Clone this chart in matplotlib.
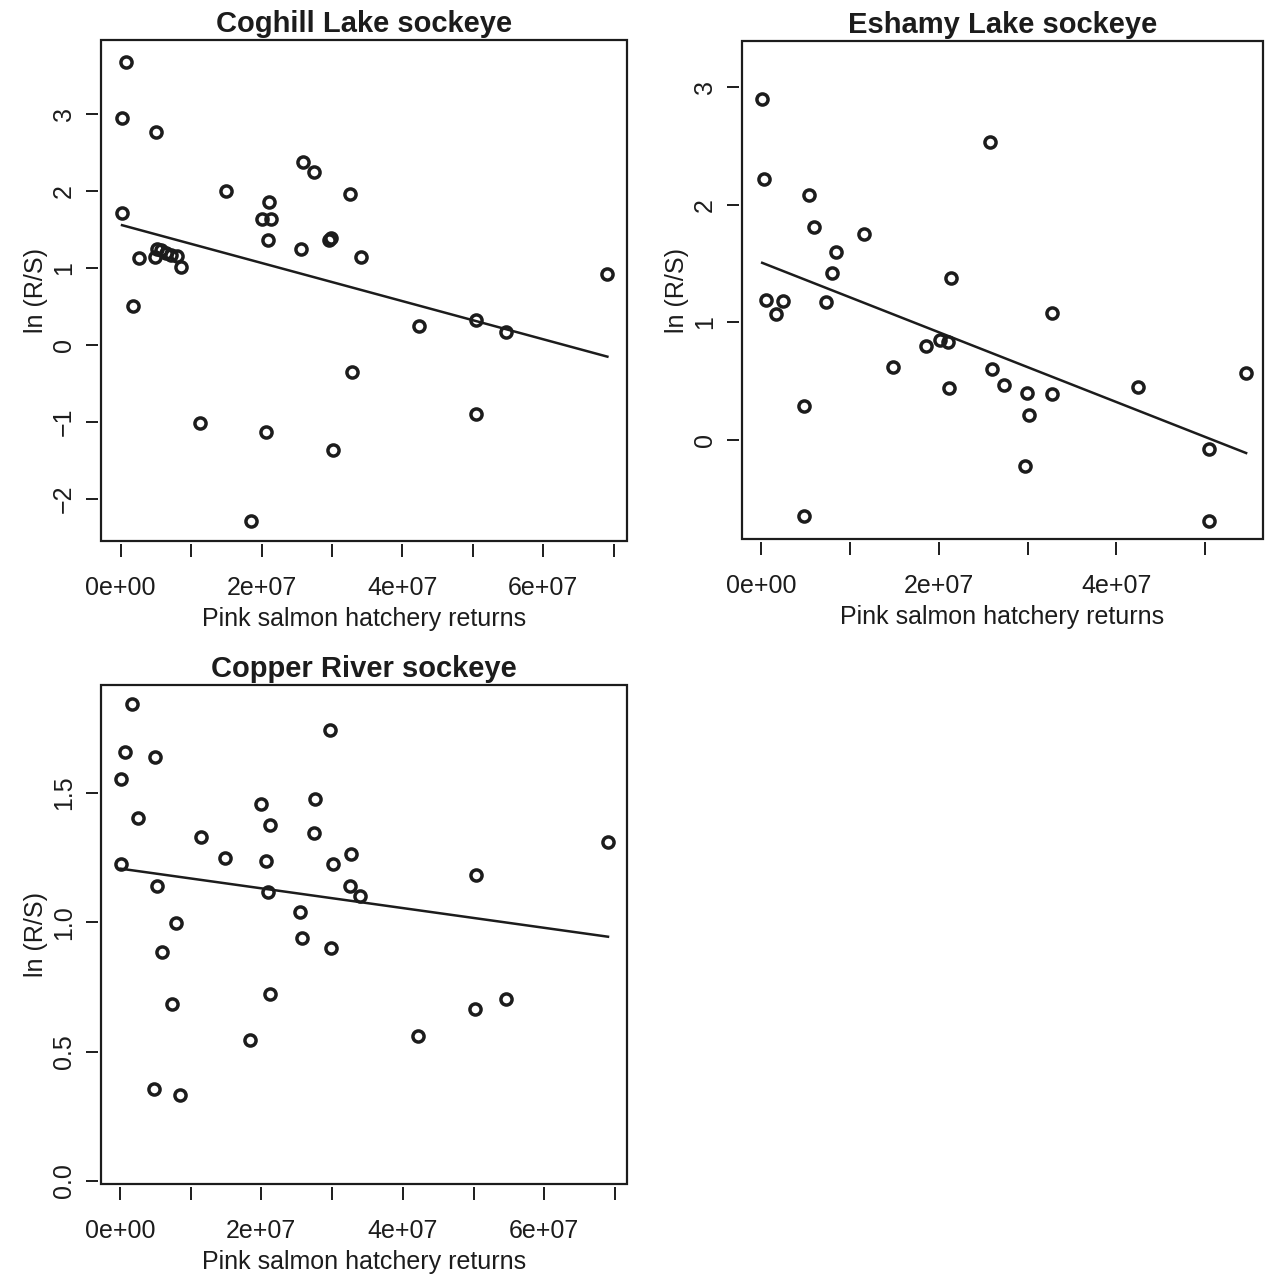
import numpy as np
import matplotlib.pyplot as plt
from matplotlib.patches import Rectangle

plt.rcParams['font.family'] = ['Liberation Sans', 'DejaVu Sans']

# pink salmon hatchery returns (units of 1e7) and ln(R/S)
coghill_x = [0.08, 0.02, 0.02, 0.50, 0.26, 0.17, 0.49, 0.52, 0.58, 0.64, 0.72, 0.80,
             0.86, 1.49, 1.13, 1.85, 2.00, 2.11, 2.14, 2.09, 2.07, 2.59, 2.74, 2.56,
             2.96, 2.99, 3.02, 3.26, 3.28, 3.41, 4.23, 5.04, 5.05, 5.47, 6.91]
coghill_y = [3.68, 2.95, 1.71, 2.77, 1.13, 0.51, 1.14, 1.24, 1.23, 1.19, 1.17, 1.16,
             1.01, 2.00, -1.01, -2.29, 1.63, 1.86, 1.63, 1.36, -1.13, 2.37, 2.24, 1.24,
             1.36, 1.39, -1.37, 1.96, -0.35, 1.14, 0.25, 0.32, -0.90, 0.17, 0.92]

eshamy_x = [0.014, 0.03, 0.06, 0.17, 0.25, 0.54, 0.60, 0.48, 0.48, 0.73, 0.80, 0.85,
            1.16, 1.49, 1.86, 2.02, 2.11, 2.14, 2.12, 2.58, 2.60, 2.74, 2.99, 3.02,
            2.97, 3.27, 3.28, 4.24, 5.04, 5.04, 5.46]
eshamy_y = [2.90, 2.22, 1.19, 1.07, 1.18, 2.08, 1.81, 0.29, -0.65, 1.17, 1.42, 1.60,
            1.75, 0.62, 0.80, 0.85, 0.83, 1.38, 0.44, 2.53, 0.60, 0.47, 0.40, 0.21,
            -0.22, 0.39, 1.08, 0.45, -0.08, -0.69, 0.57]

copper_x = [0.17, 0.07, 0.02, 0.49, 0.25, 0.01, 0.53, 0.80, 0.60, 0.73, 0.48, 0.85,
            1.14, 1.48, 1.84, 1.99, 2.12, 2.07, 2.09, 2.12, 2.55, 2.58, 2.76, 2.74,
            2.97, 3.01, 2.98, 3.27, 3.25, 3.40, 4.22, 5.04, 5.02, 5.46, 6.90]
copper_y = [1.844, 1.659, 1.553, 1.640, 1.402, 1.227, 1.141, 0.999, 0.886, 0.684, 0.357, 0.332,
            1.330, 1.248, 0.544, 1.457, 1.375, 1.237, 1.116, 0.724, 1.039, 0.939, 1.476, 1.347,
            1.742, 1.227, 0.900, 1.265, 1.139, 1.100, 0.559, 1.185, 0.666, 0.705, 1.309]

# fitted lines: intercept, slope per 1e7
coghill_fit = [1.56, -0.248]
eshamy_fit = [1.51, -0.297]
copper_fit = [1.208, -0.0382]

panels = [
    dict(title="Coghill Lake sockeye", x=coghill_x, y=coghill_y, fit=coghill_fit,
         pos=[0.0795, 0.5763, 0.4139, 0.3923], xlim=(-0.278, 7.19), ylim=(-2.55, 3.96),
         xt=range(0, 8), xl=[0, 2, 4, 6], yt=[-2, -1, 0, 1, 2, 3],
         ytl=['\u22122', '\u22121', '0', '1', '2', '3']),
    dict(title="Eshamy Lake sockeye", x=eshamy_x, y=eshamy_y, fit=eshamy_fit,
         pos=[0.5838, 0.5777, 0.4099, 0.3900], xlim=(-0.213, 5.65), ylim=(-0.845, 3.39),
         xt=range(0, 6), xl=[0, 2, 4], yt=[0, 1, 2, 3], ytl=['0', '1', '2', '3']),
    dict(title="Copper River sockeye", x=copper_x, y=copper_y, fit=copper_fit,
         pos=[0.0795, 0.0726, 0.4139, 0.3908], xlim=(-0.266, 7.17), ylim=(-0.013, 1.917),
         xt=range(0, 8), xl=[0, 2, 4, 6], yt=[0.0, 0.5, 1.0, 1.5],
         ytl=['0.0', '0.5', '1.0', '1.5']),
]

ink = '#1c1c1c'
fig = plt.figure(figsize=(12.71, 12.77), dpi=100)

for p in panels:
    ax = fig.add_axes(p['pos'])
    x = np.array(p['x']) * 1e7
    y = np.array(p['y'])
    ax.plot(x, y, linestyle='none', marker='o', markersize=8, markerfacecolor='none',
            markeredgecolor=ink, markeredgewidth=2.5)
    b0, b1 = p['fit']
    xs = np.array([x.min(), x.max()])
    ax.plot(xs, b0 + b1 * xs / 1e7, color=ink, lw=1.8)

    ax.set_xlim(p['xlim'][0] * 1e7, p['xlim'][1] * 1e7)
    ax.set_ylim(*p['ylim'])
    ax.set_xticks([t * 1e7 for t in p['xt']])
    ax.set_xticklabels(['0e+00' if t == 0 else f'{t}e+07' if t in p['xl'] else ''
                        for t in p['xt']])
    ax.set_yticks(p['yt'])
    ax.set_yticklabels(p['ytl'])

    # R-like box with ticks hanging a little away from it
    for s in ax.spines.values():
        s.set_color('none')
    ax.spines['bottom'].set_position(('outward', 2))
    ax.spines['left'].set_position(('outward', 2))
    ax.add_patch(Rectangle((0, 0), 1, 1, transform=ax.transAxes, fill=False,
                           lw=1.6, edgecolor=ink, clip_on=False))
    ax.tick_params(direction='out', length=9, width=1.4, color=ink, labelsize=18,
                   labelcolor=ink)
    ax.tick_params(axis='x', pad=14)
    ax.tick_params(axis='y', pad=7, labelrotation=90)
    for lbl in ax.get_yticklabels():
        lbl.set_verticalalignment('center')

    ax.set_title(p['title'], fontsize=21, fontweight='bold', color=ink, pad=6)
    ax.set_xlabel("Pink salmon hatchery returns", fontsize=18, color=ink, labelpad=5)
    ax.set_ylabel("ln (R/S)", fontsize=18, color=ink, labelpad=3)

fig.savefig('out.png', dpi=100, facecolor='white')
